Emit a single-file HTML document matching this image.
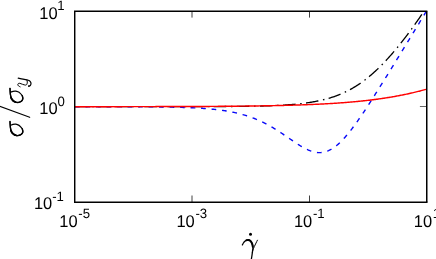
<!DOCTYPE html>
<html><head><meta charset="utf-8"><style>
html,body{margin:0;padding:0;background:#fff;}
body{width:436px;height:259px;overflow:hidden;position:relative;}
svg{position:absolute;left:0;top:0;will-change:transform;}
text{font-family:"Liberation Sans",sans-serif;fill:#000;text-rendering:geometricPrecision;}
</style></head><body>
<svg width="436" height="259" viewBox="0 0 436 259">
<rect x="0" y="0" width="436" height="259" fill="#fff"/>
<!-- ticks -->
<g stroke="#000" stroke-width="0.75">
<line x1="192" y1="11.25" x2="192" y2="17.6"/><line x1="309.5" y1="11.25" x2="309.5" y2="17.6"/>
<line x1="192" y1="202.2" x2="192" y2="195.5"/><line x1="309.5" y1="202.2" x2="309.5" y2="195.5"/>
<line x1="74.72" y1="106.5" x2="81.2" y2="106.5"/><line x1="426.75" y1="106.5" x2="419.9" y2="106.5" stroke-width="0.6"/>
</g>
<!-- curves -->
<path d="M75.00,106.70 L75.97,106.70 L76.95,106.70 L77.92,106.70 L78.90,106.70 L79.87,106.70 L80.85,106.70 L81.82,106.70 L82.80,106.70 L83.78,106.70 L84.75,106.70 L85.73,106.70 L86.70,106.70 L87.68,106.70 L88.65,106.70 L89.62,106.70 L90.60,106.70 L91.57,106.70 L92.55,106.70 L93.52,106.70 L94.50,106.70 L95.47,106.70 L96.45,106.70 L97.42,106.70 L98.40,106.70 L99.38,106.70 L100.35,106.70 L101.33,106.70 L102.30,106.70 L103.28,106.70 L104.25,106.70 L105.22,106.70 L106.20,106.70 L107.17,106.70 L108.15,106.70 L109.12,106.70 L110.10,106.70 L111.08,106.70 L112.05,106.70 L113.03,106.70 L114.00,106.70 L114.98,106.70 L115.95,106.70 L116.93,106.70 L117.90,106.70 L118.88,106.70 L119.85,106.70 L120.82,106.70 L121.80,106.70 L122.77,106.70 L123.75,106.70 L124.72,106.70 L125.70,106.70 L126.67,106.70 L127.65,106.70 L128.62,106.70 L129.60,106.70 L130.58,106.70 L131.55,106.70 L132.53,106.70 L133.50,106.70 L134.47,106.69 L135.45,106.69 L136.42,106.69 L137.40,106.69 L138.37,106.69 L139.35,106.69 L140.32,106.69 L141.30,106.69 L142.27,106.69 L143.25,106.69 L144.23,106.69 L145.20,106.69 L146.18,106.69 L147.15,106.69 L148.12,106.69 L149.10,106.69 L150.07,106.69 L151.05,106.69 L152.02,106.69 L153.00,106.69 L153.98,106.69 L154.95,106.69 L155.93,106.69 L156.90,106.69 L157.88,106.69 L158.85,106.69 L159.83,106.69 L160.80,106.69 L161.78,106.69 L162.75,106.68 L163.72,106.68 L164.70,106.68 L165.67,106.68 L166.65,106.68 L167.62,106.68 L168.60,106.68 L169.57,106.68 L170.55,106.68 L171.52,106.68 L172.50,106.68 L173.48,106.68 L174.45,106.68 L175.43,106.68 L176.40,106.67 L177.38,106.67 L178.35,106.67 L179.32,106.67 L180.30,106.67 L181.27,106.67 L182.25,106.67 L183.22,106.67 L184.20,106.67 L185.18,106.66 L186.15,106.66 L187.12,106.66 L188.10,106.66 L189.07,106.66 L190.05,106.66 L191.02,106.65 L192.00,106.65 L192.97,106.65 L193.95,106.65 L194.92,106.65 L195.90,106.65 L196.88,106.64 L197.85,106.64 L198.82,106.64 L199.80,106.64 L200.78,106.63 L201.75,106.63 L202.72,106.63 L203.70,106.63 L204.68,106.62 L205.65,106.62 L206.62,106.62 L207.60,106.61 L208.57,106.61 L209.55,106.61 L210.52,106.60 L211.50,106.60 L212.47,106.60 L213.45,106.59 L214.42,106.59 L215.40,106.58 L216.37,106.58 L217.35,106.57 L218.33,106.57 L219.30,106.56 L220.28,106.56 L221.25,106.55 L222.22,106.55 L223.20,106.54 L224.17,106.54 L225.15,106.53 L226.12,106.52 L227.10,106.52 L228.07,106.51 L229.05,106.50 L230.03,106.50 L231.00,106.49 L231.97,106.48 L232.95,106.47 L233.93,106.46 L234.90,106.45 L235.88,106.44 L236.85,106.43 L237.82,106.42 L238.80,106.41 L239.77,106.40 L240.75,106.39 L241.73,106.38 L242.70,106.37 L243.68,106.35 L244.65,106.34 L245.62,106.33 L246.60,106.31 L247.58,106.30 L248.55,106.28 L249.53,106.27 L250.50,106.25 L251.47,106.23 L252.45,106.22 L253.42,106.20 L254.40,106.18 L255.38,106.16 L256.35,106.14 L257.33,106.12 L258.30,106.09 L259.27,106.07 L260.25,106.05 L261.23,106.02 L262.20,106.00 L263.17,105.97 L264.15,105.94 L265.12,105.91 L266.10,105.88 L267.07,105.85 L268.05,105.82 L269.02,105.78 L270.00,105.75 L270.98,105.71 L271.95,105.68 L272.93,105.64 L273.90,105.60 L274.88,105.56 L275.85,105.51 L276.82,105.47 L277.80,105.42 L278.77,105.37 L279.75,105.32 L280.73,105.27 L281.70,105.22 L282.68,105.16 L283.65,105.10 L284.62,105.04 L285.60,104.98 L286.57,104.92 L287.55,104.85 L288.52,104.78 L289.50,104.71 L290.47,104.63 L291.45,104.56 L292.43,104.48 L293.40,104.39 L294.38,104.31 L295.35,104.22 L296.32,104.12 L297.30,104.03 L298.27,103.93 L299.25,103.83 L300.23,103.72 L301.20,103.61 L302.18,103.50 L303.15,103.38 L304.12,103.25 L305.10,103.13 L306.07,103.00 L307.05,102.86 L308.02,102.72 L309.00,102.57 L309.98,102.42 L310.95,102.27 L311.92,102.11 L312.90,101.94 L313.88,101.77 L314.85,101.59 L315.82,101.41 L316.80,101.22 L317.78,101.02 L318.75,100.82 L319.73,100.61 L320.70,100.39 L321.68,100.17 L322.65,99.93 L323.62,99.69 L324.60,99.45 L325.58,99.19 L326.55,98.93 L327.52,98.66 L328.50,98.38 L329.48,98.09 L330.45,97.79 L331.43,97.49 L332.40,97.17 L333.38,96.85 L334.35,96.51 L335.32,96.17 L336.30,95.81 L337.27,95.44 L338.25,95.07 L339.23,94.68 L340.20,94.28 L341.18,93.87 L342.15,93.45 L343.12,93.02 L344.10,92.57 L345.07,92.12 L346.05,91.65 L347.03,91.16 L348.00,90.67 L348.98,90.16 L349.95,89.64 L350.93,89.11 L351.90,88.56 L352.88,88.00 L353.85,87.43 L354.82,86.84 L355.80,86.24 L356.77,85.63 L357.75,85.00 L358.72,84.35 L359.70,83.70 L360.67,83.03 L361.65,82.34 L362.63,81.64 L363.60,80.92 L364.58,80.19 L365.55,79.45 L366.53,78.69 L367.50,77.91 L368.48,77.13 L369.45,76.32 L370.43,75.50 L371.40,74.67 L372.38,73.83 L373.35,72.96 L374.32,72.09 L375.30,71.20 L376.28,70.29 L377.25,69.37 L378.23,68.44 L379.20,67.49 L380.18,66.53 L381.15,65.55 L382.12,64.57 L383.10,63.56 L384.07,62.55 L385.05,61.52 L386.02,60.47 L387.00,59.42 L387.97,58.35 L388.95,57.27 L389.92,56.18 L390.90,55.07 L391.88,53.95 L392.85,52.82 L393.82,51.68 L394.80,50.52 L395.77,49.36 L396.75,48.18 L397.72,47.00 L398.70,45.80 L399.67,44.59 L400.65,43.37 L401.62,42.14 L402.60,40.89 L403.57,39.64 L404.55,38.38 L405.53,37.11 L406.50,35.83 L407.48,34.54 L408.45,33.24 L409.43,31.93 L410.40,30.61 L411.38,29.28 L412.35,27.94 L413.32,26.59 L414.30,25.23 L415.27,23.87 L416.25,22.49 L417.22,21.10 L418.20,19.71 L419.18,18.30 L420.15,16.89 L421.12,15.46 L422.10,14.02 L423.07,12.58 L423.96,11.25" fill="none" stroke="#000" stroke-width="1.32" stroke-dasharray="12.55 4.7 1.5 4.365"/>
<path d="M75.00,106.69 L75.97,106.69 L76.95,106.69 L77.92,106.69 L78.90,106.69 L79.87,106.69 L80.85,106.69 L81.82,106.69 L82.80,106.69 L83.78,106.69 L84.75,106.69 L85.73,106.69 L86.70,106.69 L87.68,106.69 L88.65,106.69 L89.62,106.70 L90.60,106.70 L91.57,106.70 L92.55,106.70 L93.52,106.70 L94.50,106.70 L95.47,106.70 L96.45,106.70 L97.42,106.70 L98.40,106.70 L99.38,106.70 L100.35,106.70 L101.33,106.70 L102.30,106.70 L103.28,106.70 L104.25,106.70 L105.22,106.71 L106.20,106.71 L107.17,106.71 L108.15,106.71 L109.12,106.71 L110.10,106.71 L111.08,106.71 L112.05,106.71 L113.03,106.71 L114.00,106.72 L114.98,106.72 L115.95,106.72 L116.93,106.72 L117.90,106.72 L118.88,106.72 L119.85,106.73 L120.82,106.73 L121.80,106.73 L122.77,106.73 L123.75,106.73 L124.72,106.74 L125.70,106.74 L126.67,106.74 L127.65,106.75 L128.62,106.75 L129.60,106.75 L130.58,106.75 L131.55,106.76 L132.53,106.76 L133.50,106.76 L134.47,106.77 L135.45,106.77 L136.42,106.78 L137.40,106.78 L138.37,106.79 L139.35,106.79 L140.32,106.80 L141.30,106.80 L142.27,106.81 L143.25,106.81 L144.23,106.82 L145.20,106.82 L146.18,106.83 L147.15,106.84 L148.12,106.84 L149.10,106.85 L150.07,106.86 L151.05,106.87 L152.02,106.88 L153.00,106.88 L153.98,106.89 L154.95,106.90 L155.93,106.91 L156.90,106.92 L157.88,106.93 L158.85,106.95 L159.83,106.96 L160.80,106.97 L161.78,106.98 L162.75,106.99 L163.72,107.01 L164.70,107.02 L165.67,107.04 L166.65,107.05 L167.62,107.07 L168.60,107.09 L169.57,107.10 L170.55,107.12 L171.52,107.14 L172.50,107.16 L173.48,107.18 L174.45,107.20 L175.43,107.22 L176.40,107.25 L177.38,107.27 L178.35,107.30 L179.32,107.32 L180.30,107.35 L181.27,107.38 L182.25,107.41 L183.22,107.44 L184.20,107.47 L185.18,107.50 L186.15,107.54 L187.12,107.57 L188.10,107.61 L189.07,107.65 L190.05,107.69 L191.02,107.73 L192.00,107.77 L192.97,107.82 L193.95,107.87 L194.92,107.91 L195.90,107.96 L196.88,108.02 L197.85,108.07 L198.82,108.13 L199.80,108.19 L200.78,108.25 L201.75,108.31 L202.72,108.38 L203.70,108.44 L204.68,108.52 L205.65,108.59 L206.62,108.67 L207.60,108.74 L208.57,108.83 L209.55,108.91 L210.52,109.00 L211.50,109.09 L212.47,109.19 L213.45,109.29 L214.42,109.39 L215.40,109.49 L216.37,109.60 L217.35,109.72 L218.33,109.84 L219.30,109.96 L220.28,110.08 L221.25,110.22 L222.22,110.35 L223.20,110.49 L224.17,110.64 L225.15,110.79 L226.12,110.95 L227.10,111.11 L228.07,111.27 L229.05,111.45 L230.03,111.62 L231.00,111.81 L231.97,112.00 L232.95,112.20 L233.93,112.40 L234.90,112.61 L235.88,112.83 L236.85,113.05 L237.82,113.29 L238.80,113.53 L239.77,113.77 L240.75,114.03 L241.73,114.29 L242.70,114.56 L243.68,114.84 L244.65,115.13 L245.62,115.42 L246.60,115.73 L247.58,116.04 L248.55,116.37 L249.53,116.70 L250.50,117.04 L251.47,117.39 L252.45,117.75 L253.42,118.12 L254.40,118.51 L255.38,118.90 L256.35,119.30 L257.33,119.71 L258.30,120.13 L259.27,120.56 L260.25,121.01 L261.23,121.46 L262.20,121.92 L263.17,122.40 L264.15,122.88 L265.12,123.38 L266.10,123.88 L267.07,124.40 L268.05,124.93 L269.02,125.46 L270.00,126.01 L270.98,126.57 L271.95,127.13 L272.93,127.71 L273.90,128.29 L274.88,128.89 L275.85,129.49 L276.82,130.10 L277.80,130.72 L278.77,131.35 L279.75,131.99 L280.73,132.63 L281.70,133.27 L282.68,133.93 L283.65,134.59 L284.62,135.25 L285.60,135.92 L286.57,136.58 L287.55,137.26 L288.52,137.93 L289.50,138.60 L290.47,139.28 L291.45,139.95 L292.43,140.62 L293.40,141.28 L294.38,141.94 L295.35,142.60 L296.32,143.24 L297.30,143.88 L298.27,144.51 L299.25,145.13 L300.23,145.73 L301.20,146.32 L302.18,146.90 L303.15,147.45 L304.12,147.99 L305.10,148.51 L306.07,149.00 L307.05,149.47 L308.02,149.92 L309.00,150.33 L309.98,150.72 L310.95,151.08 L311.92,151.40 L312.90,151.70 L313.88,151.95 L314.85,152.17 L315.82,152.35 L316.80,152.49 L317.78,152.59 L318.75,152.64 L319.73,152.65 L320.70,152.62 L321.68,152.55 L322.65,152.42 L323.62,152.25 L324.60,152.04 L325.58,151.77 L326.55,151.46 L327.52,151.10 L328.50,150.69 L329.48,150.24 L330.45,149.74 L331.43,149.19 L332.40,148.60 L333.38,147.96 L334.35,147.28 L335.32,146.56 L336.30,145.79 L337.27,144.98 L338.25,144.14 L339.23,143.25 L340.20,142.33 L341.18,141.37 L342.15,140.37 L343.12,139.35 L344.10,138.29 L345.07,137.20 L346.05,136.08 L347.03,134.93 L348.00,133.76 L348.98,132.56 L349.95,131.33 L350.93,130.08 L351.90,128.82 L352.88,127.53 L353.85,126.22 L354.82,124.89 L355.80,123.54 L356.77,122.18 L357.75,120.81 L358.72,119.42 L359.70,118.01 L360.67,116.59 L361.65,115.16 L362.63,113.72 L363.60,112.27 L364.58,110.81 L365.55,109.34 L366.53,107.86 L367.50,106.37 L368.48,104.88 L369.45,103.37 L370.43,101.86 L371.40,100.35 L372.38,98.83 L373.35,97.30 L374.32,95.77 L375.30,94.23 L376.28,92.69 L377.25,91.15 L378.23,89.60 L379.20,88.05 L380.18,86.49 L381.15,84.93 L382.12,83.37 L383.10,81.81 L384.07,80.24 L385.05,78.67 L386.02,77.10 L387.00,75.53 L387.97,73.95 L388.95,72.38 L389.92,70.80 L390.90,69.22 L391.88,67.64 L392.85,66.05 L393.82,64.47 L394.80,62.89 L395.77,61.30 L396.75,59.71 L397.72,58.12 L398.70,56.54 L399.67,54.95 L400.65,53.36 L401.62,51.77 L402.60,50.17 L403.57,48.58 L404.55,46.99 L405.53,45.40 L406.50,43.80 L407.48,42.21 L408.45,40.61 L409.43,39.02 L410.40,37.42 L411.38,35.83 L412.35,34.23 L413.32,32.64 L414.30,31.04 L415.27,29.44 L416.25,27.85 L417.22,26.25 L418.20,24.65 L419.18,23.06 L420.15,21.46 L421.12,19.86 L422.10,18.26 L423.07,16.67 L424.05,15.07 L425.02,13.47 L426.00,11.87" fill="none" stroke="#0808f8" stroke-width="1.4" stroke-dasharray="4.7 5.81"/>
<path d="M75.00,106.68 L75.97,106.68 L76.95,106.68 L77.92,106.68 L78.90,106.68 L79.87,106.68 L80.85,106.68 L81.82,106.68 L82.80,106.67 L83.78,106.67 L84.75,106.67 L85.73,106.67 L86.70,106.67 L87.68,106.67 L88.65,106.67 L89.62,106.67 L90.60,106.67 L91.57,106.67 L92.55,106.67 L93.52,106.67 L94.50,106.67 L95.47,106.67 L96.45,106.67 L97.42,106.67 L98.40,106.67 L99.38,106.67 L100.35,106.66 L101.33,106.66 L102.30,106.66 L103.28,106.66 L104.25,106.66 L105.22,106.66 L106.20,106.66 L107.17,106.66 L108.15,106.66 L109.12,106.66 L110.10,106.66 L111.08,106.66 L112.05,106.66 L113.03,106.65 L114.00,106.65 L114.98,106.65 L115.95,106.65 L116.93,106.65 L117.90,106.65 L118.88,106.65 L119.85,106.65 L120.82,106.65 L121.80,106.65 L122.77,106.64 L123.75,106.64 L124.72,106.64 L125.70,106.64 L126.67,106.64 L127.65,106.64 L128.62,106.64 L129.60,106.64 L130.58,106.64 L131.55,106.63 L132.53,106.63 L133.50,106.63 L134.47,106.63 L135.45,106.63 L136.42,106.63 L137.40,106.63 L138.37,106.63 L139.35,106.62 L140.32,106.62 L141.30,106.62 L142.27,106.62 L143.25,106.62 L144.23,106.62 L145.20,106.61 L146.18,106.61 L147.15,106.61 L148.12,106.61 L149.10,106.61 L150.07,106.61 L151.05,106.60 L152.02,106.60 L153.00,106.60 L153.98,106.60 L154.95,106.60 L155.93,106.59 L156.90,106.59 L157.88,106.59 L158.85,106.59 L159.83,106.59 L160.80,106.58 L161.78,106.58 L162.75,106.58 L163.72,106.58 L164.70,106.57 L165.67,106.57 L166.65,106.57 L167.62,106.57 L168.60,106.56 L169.57,106.56 L170.55,106.56 L171.52,106.56 L172.50,106.55 L173.48,106.55 L174.45,106.55 L175.43,106.54 L176.40,106.54 L177.38,106.54 L178.35,106.54 L179.32,106.53 L180.30,106.53 L181.27,106.53 L182.25,106.52 L183.22,106.52 L184.20,106.52 L185.18,106.51 L186.15,106.51 L187.12,106.50 L188.10,106.50 L189.07,106.50 L190.05,106.49 L191.02,106.49 L192.00,106.49 L192.97,106.48 L193.95,106.48 L194.92,106.47 L195.90,106.47 L196.88,106.46 L197.85,106.46 L198.82,106.45 L199.80,106.45 L200.78,106.44 L201.75,106.44 L202.72,106.43 L203.70,106.43 L204.68,106.42 L205.65,106.42 L206.62,106.41 L207.60,106.41 L208.57,106.40 L209.55,106.40 L210.52,106.39 L211.50,106.38 L212.47,106.38 L213.45,106.37 L214.42,106.37 L215.40,106.36 L216.37,106.35 L217.35,106.35 L218.33,106.34 L219.30,106.33 L220.28,106.33 L221.25,106.32 L222.22,106.31 L223.20,106.30 L224.17,106.30 L225.15,106.29 L226.12,106.28 L227.10,106.27 L228.07,106.26 L229.05,106.26 L230.03,106.25 L231.00,106.24 L231.97,106.23 L232.95,106.22 L233.93,106.21 L234.90,106.20 L235.88,106.19 L236.85,106.18 L237.82,106.17 L238.80,106.16 L239.77,106.15 L240.75,106.14 L241.73,106.13 L242.70,106.12 L243.68,106.11 L244.65,106.10 L245.62,106.09 L246.60,106.07 L247.58,106.06 L248.55,106.05 L249.53,106.04 L250.50,106.02 L251.47,106.01 L252.45,106.00 L253.42,105.98 L254.40,105.97 L255.38,105.96 L256.35,105.94 L257.33,105.93 L258.30,105.91 L259.27,105.90 L260.25,105.88 L261.23,105.87 L262.20,105.85 L263.17,105.83 L264.15,105.82 L265.12,105.80 L266.10,105.78 L267.07,105.77 L268.05,105.75 L269.02,105.73 L270.00,105.71 L270.98,105.69 L271.95,105.67 L272.93,105.65 L273.90,105.63 L274.88,105.61 L275.85,105.59 L276.82,105.57 L277.80,105.55 L278.77,105.53 L279.75,105.51 L280.73,105.48 L281.70,105.46 L282.68,105.44 L283.65,105.41 L284.62,105.39 L285.60,105.36 L286.57,105.34 L287.55,105.31 L288.52,105.28 L289.50,105.26 L290.47,105.23 L291.45,105.20 L292.43,105.17 L293.40,105.14 L294.38,105.11 L295.35,105.08 L296.32,105.05 L297.30,105.02 L298.27,104.99 L299.25,104.96 L300.23,104.93 L301.20,104.89 L302.18,104.86 L303.15,104.82 L304.12,104.79 L305.10,104.75 L306.07,104.71 L307.05,104.68 L308.02,104.64 L309.00,104.60 L309.98,104.56 L310.95,104.52 L311.92,104.48 L312.90,104.44 L313.88,104.39 L314.85,104.35 L315.82,104.31 L316.80,104.26 L317.78,104.22 L318.75,104.17 L319.73,104.12 L320.70,104.07 L321.68,104.02 L322.65,103.97 L323.62,103.92 L324.60,103.87 L325.58,103.82 L326.55,103.76 L327.52,103.71 L328.50,103.65 L329.48,103.60 L330.45,103.54 L331.43,103.48 L332.40,103.42 L333.38,103.36 L334.35,103.30 L335.32,103.23 L336.30,103.17 L337.27,103.10 L338.25,103.04 L339.23,102.97 L340.20,102.90 L341.18,102.83 L342.15,102.76 L343.12,102.68 L344.10,102.61 L345.07,102.53 L346.05,102.46 L347.03,102.38 L348.00,102.30 L348.98,102.22 L349.95,102.14 L350.93,102.05 L351.90,101.97 L352.88,101.88 L353.85,101.79 L354.82,101.70 L355.80,101.61 L356.77,101.52 L357.75,101.43 L358.72,101.33 L359.70,101.23 L360.67,101.13 L361.65,101.03 L362.63,100.93 L363.60,100.83 L364.58,100.72 L365.55,100.61 L366.53,100.50 L367.50,100.39 L368.48,100.28 L369.45,100.16 L370.43,100.05 L371.40,99.93 L372.38,99.81 L373.35,99.68 L374.32,99.56 L375.30,99.43 L376.28,99.30 L377.25,99.17 L378.23,99.04 L379.20,98.90 L380.18,98.77 L381.15,98.63 L382.12,98.49 L383.10,98.34 L384.07,98.20 L385.05,98.05 L386.02,97.90 L387.00,97.74 L387.97,97.59 L388.95,97.43 L389.92,97.27 L390.90,97.11 L391.88,96.94 L392.85,96.77 L393.82,96.60 L394.80,96.43 L395.77,96.25 L396.75,96.07 L397.72,95.89 L398.70,95.71 L399.67,95.52 L400.65,95.33 L401.62,95.14 L402.60,94.95 L403.57,94.75 L404.55,94.55 L405.53,94.34 L406.50,94.14 L407.48,93.93 L408.45,93.72 L409.43,93.50 L410.40,93.28 L411.38,93.06 L412.35,92.84 L413.32,92.61 L414.30,92.38 L415.27,92.14 L416.25,91.91 L417.22,91.67 L418.20,91.42 L419.18,91.18 L420.15,90.93 L421.12,90.67 L422.10,90.42 L423.07,90.16 L424.05,89.90 L425.02,89.63 L426.00,89.36" fill="none" stroke="#ff0000" stroke-width="1.45"/>
<!-- box -->
<g stroke="#000">
<line x1="74.72" y1="11.25" x2="74.72" y2="202.2" stroke-width="1.45"/>
<line x1="426.75" y1="11.25" x2="426.75" y2="202.2" stroke-width="1.5"/>
<line x1="74.0" y1="11.25" x2="427.35" y2="11.25" stroke-width="1.5"/>
<line x1="74.0" y1="202.2" x2="427.5" y2="202.2" stroke-width="1.55"/>
</g>
<text transform="translate(39.3,18.6) scale(1,1.03)" font-size="16.5">10<tspan font-size="13.2" dx="-0.4" dy="-8.4">1</tspan></text>
<text transform="translate(39.3,113.7) scale(1,1.03)" font-size="16.5">10<tspan font-size="13.2" dx="-0.2" dy="-7.5">0</tspan></text>
<text transform="translate(33.9,209.1) scale(1,1.03)" font-size="16.5">10<tspan font-size="13.2" dx="-0.1" dy="-7.4">-1</tspan></text>
<text transform="translate(59.2,226.7) scale(1,1.03)" font-size="16.5">10<tspan font-size="13.2" dx="0.7" dy="-8.4">-5</tspan></text>
<text transform="translate(176.4,226.7) scale(1,1.03)" font-size="16.5">10<tspan font-size="13.2" dx="0.7" dy="-8.4">-3</tspan></text>
<text transform="translate(293.9,226.7) scale(1,1.03)" font-size="16.5">10<tspan font-size="13.2" dx="0.7" dy="-8.4">-1</tspan></text>
<text transform="translate(413.8,226.7) scale(1,1.03)" font-size="16.5">10<tspan font-size="13.2" dx="0.7" dy="-8.4">1</tspan></text>
<!-- y label -->
<g fill="none" stroke="#000" stroke-linecap="round" stroke-linejoin="round"><title>σ/σy</title>
<path d="M10.00,121.50 C10.03,122.00 10.07,123.40 10.15,124.50 C10.23,125.60 10.31,126.98 10.50,128.10 C10.69,129.22 10.90,130.28 11.30,131.20 C11.70,132.12 12.25,132.95 12.90,133.60 C13.55,134.25 14.43,134.77 15.20,135.10 C15.97,135.43 16.65,135.63 17.50,135.60 C18.35,135.57 19.52,135.27 20.30,134.90 C21.08,134.53 21.77,133.98 22.20,133.40 C22.62,132.82 22.85,132.18 22.85,131.40 C22.85,130.62 22.68,129.57 22.20,128.70 C21.72,127.83 20.70,126.83 20.00,126.20 C19.30,125.57 18.73,125.23 18.00,124.90 C17.27,124.57 16.43,124.28 15.60,124.20 C14.77,124.12 13.80,124.23 13.00,124.40 C12.20,124.57 11.17,125.07 10.80,125.20" stroke-width="1.2"/><path d="M10.00,121.50 C10.03,122.00 10.07,123.40 10.15,124.50 C10.23,125.60 10.31,126.98 10.50,128.10 C10.69,129.22 10.90,130.28 11.30,131.20 C11.70,132.12 12.25,132.95 12.90,133.60 C13.55,134.25 14.43,134.77 15.20,135.10 C15.97,135.43 16.65,135.63 17.50,135.60 C18.35,135.57 19.52,135.27 20.30,134.90 C21.08,134.53 21.77,133.98 22.20,133.40 C22.62,132.82 22.85,132.18 22.85,131.40 C22.85,130.62 22.31,129.15 22.20,128.70" stroke-width="1.35"/><path d="M11.00,130.60 C11.12,130.87 11.38,131.70 11.70,132.20 C12.02,132.70 12.47,133.20 12.90,133.60 C13.33,134.00 13.88,134.35 14.30,134.60 C14.72,134.85 15.22,135.02 15.40,135.10" stroke-width="1.85"/><path d="M10.00,88.40 C10.03,88.90 10.07,90.30 10.15,91.40 C10.23,92.50 10.31,93.88 10.50,95.00 C10.69,96.12 10.90,97.18 11.30,98.10 C11.70,99.02 12.25,99.85 12.90,100.50 C13.55,101.15 14.43,101.67 15.20,102.00 C15.97,102.33 16.65,102.53 17.50,102.50 C18.35,102.47 19.52,102.17 20.30,101.80 C21.08,101.43 21.77,100.88 22.20,100.30 C22.62,99.72 22.85,99.08 22.85,98.30 C22.85,97.52 22.68,96.47 22.20,95.60 C21.72,94.73 20.70,93.73 20.00,93.10 C19.30,92.47 18.73,92.13 18.00,91.80 C17.27,91.47 16.43,91.18 15.60,91.10 C14.77,91.02 13.80,91.13 13.00,91.30 C12.20,91.47 11.17,91.97 10.80,92.10" stroke-width="1.2"/><path d="M10.00,88.40 C10.03,88.90 10.07,90.30 10.15,91.40 C10.23,92.50 10.31,93.88 10.50,95.00 C10.69,96.12 10.90,97.18 11.30,98.10 C11.70,99.02 12.25,99.85 12.90,100.50 C13.55,101.15 14.43,101.67 15.20,102.00 C15.97,102.33 16.65,102.53 17.50,102.50 C18.35,102.47 19.52,102.17 20.30,101.80 C21.08,101.43 21.77,100.88 22.20,100.30 C22.62,99.72 22.85,99.08 22.85,98.30 C22.85,97.52 22.31,96.05 22.20,95.60" stroke-width="1.35"/><path d="M11.00,97.50 C11.12,97.77 11.38,98.60 11.70,99.10 C12.02,99.60 12.47,100.10 12.90,100.50 C13.33,100.90 13.88,101.25 14.30,101.50 C14.72,101.75 15.22,101.92 15.40,102.00" stroke-width="1.85"/>
<path d="M-1,106.03 L29.7,117.33" stroke-width="1.1"/>
<path d="M18.20,78.10 C19.00,78.26 21.32,78.68 23.00,79.05 C24.68,79.42 27.08,79.88 28.30,80.30 C29.52,80.72 29.85,81.05 30.30,81.60 C30.75,82.15 30.98,82.98 31.00,83.60 C31.02,84.22 30.73,84.88 30.40,85.30 C30.07,85.72 29.23,85.97 29.00,86.10" stroke-width="1.2"/><circle cx="28.9" cy="86.1" r="0.9" fill="#000" stroke="none"/>
<path d="M20.10,86.80 C19.85,86.67 18.98,86.37 18.60,86.00 C18.22,85.63 17.83,85.02 17.80,84.60 C17.77,84.18 18.07,83.72 18.40,83.50 C18.72,83.28 19.07,83.17 19.75,83.30 C20.43,83.43 21.52,84.00 22.50,84.30 C23.48,84.60 24.87,85.12 25.60,85.10 C26.33,85.08 26.62,84.70 26.90,84.20 C27.18,83.70 27.30,82.80 27.30,82.10 C27.30,81.40 26.97,80.35 26.90,80.00" stroke-width="1.0"/>
</g>
<!-- x label -->
<g fill="none" stroke="#000" stroke-linecap="round" stroke-linejoin="round"><title>γ̇</title>
<path d="M242.40,244.90 C242.57,244.58 242.98,243.60 243.40,243.00 C243.82,242.40 244.37,241.77 244.90,241.30 C245.43,240.83 246.02,240.43 246.60,240.20 C247.18,239.97 247.80,239.82 248.40,239.90 C249.00,239.98 249.67,240.27 250.20,240.70 C250.72,241.13 251.18,241.85 251.55,242.50 C251.92,243.15 252.19,243.88 252.40,244.60 C252.61,245.32 252.72,246.10 252.80,246.80 C252.88,247.50 252.93,248.15 252.90,248.80 C252.87,249.45 252.73,249.75 252.60,250.70 C252.47,251.65 252.33,252.95 252.10,254.50 C251.87,256.05 251.35,259.08 251.20,260.00" stroke-width="1.3"/><path d="M246.60,240.20 C246.90,240.15 247.80,239.82 248.40,239.90 C249.00,239.98 249.67,240.27 250.20,240.70 C250.72,241.13 251.18,241.85 251.55,242.50 C251.92,243.15 252.19,243.88 252.40,244.60 C252.61,245.32 252.73,246.43 252.80,246.80" stroke-width="2.0"/>
<path d="M257.40,240.20 C256.75,241.57 254.33,246.43 253.50,248.40 C252.67,250.37 252.58,251.40 252.40,252.00" stroke-width="1.0"/>
<circle cx="250.5" cy="234.2" r="1.5" fill="#000" stroke="none"/>
</g>
</svg>
</body></html>
